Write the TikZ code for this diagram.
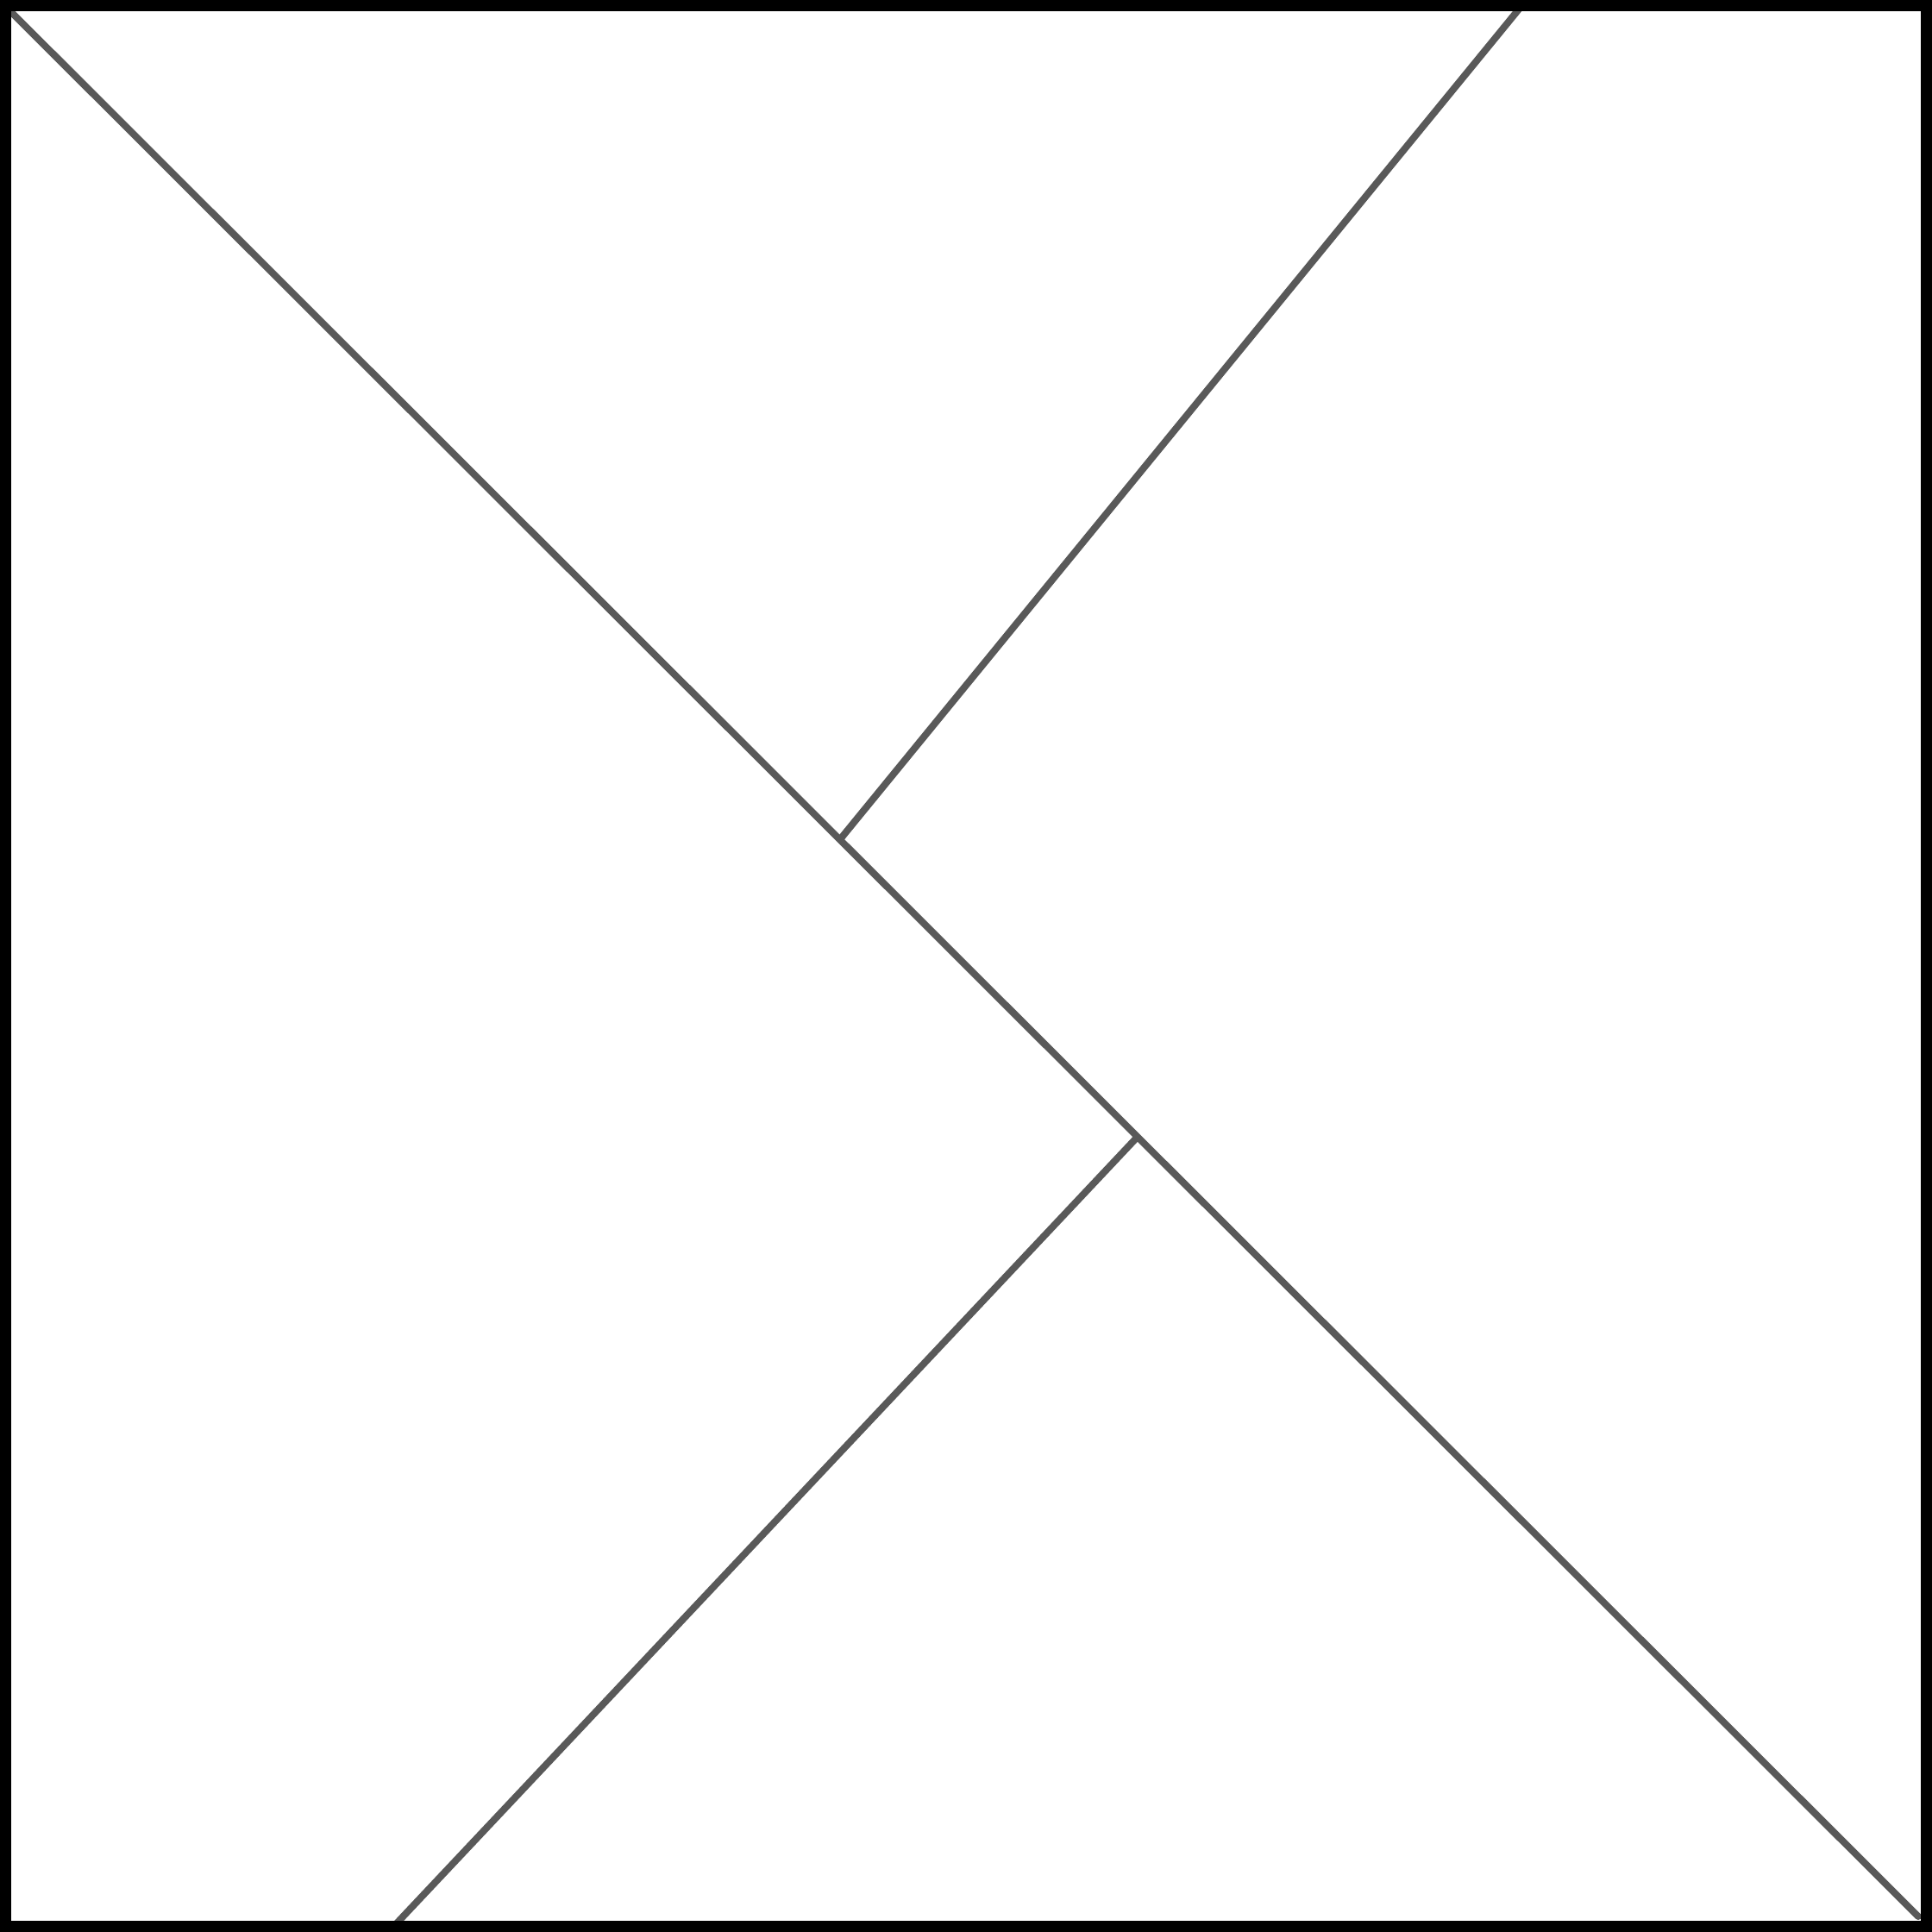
\documentclass[tikz,border=0pt]{standalone}
\usepackage{tikz}
\tikzstyle{cutLine}=[draw = black!65, line width = 0.08cm, line cap = round]
\tikzstyle{frameStyle}=[draw = black, line width = 0.13cm]

\begin{document}
\begin{tikzpicture}
\useasboundingbox (0,0) rectangle (22.4,22.4);
\coordinate (c0) at (0.14, 22.25);
\coordinate (c1) at (22.24, 0.18);
\coordinate (c2) at (17.64, 22.33);
\coordinate (c3) at (9.75, 12.68);
\coordinate (c4) at (13.17, 9.20);
\coordinate (c5) at (4.57, 0.07);
\draw[cutLine] (c0) -- (c1);
\draw[cutLine] (c2) -- (c3);
\draw[cutLine] (c5) -- (c4);
\draw[frameStyle] (0.065,0.065) rectangle (22.335,22.335);
\end{tikzpicture}
\end{document}
